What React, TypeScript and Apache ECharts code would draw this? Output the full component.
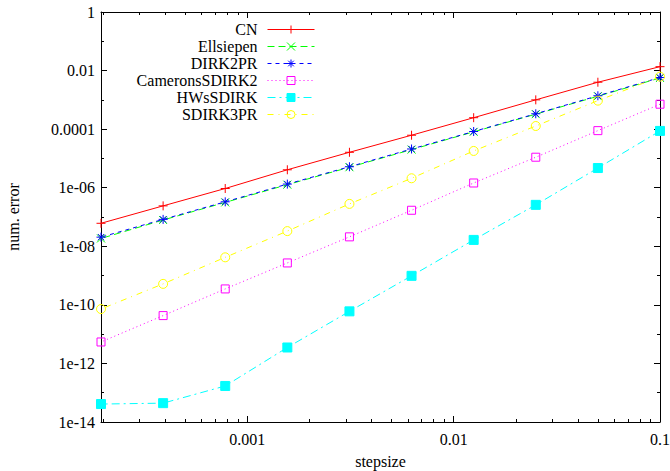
import React, { useEffect, useRef } from "react";
import * as echarts from "echarts";

// step sizes (x)
const stepsizes = [0.1, 0.05, 0.025, 0.0125, 0.00625, 0.003125, 0.0015625, 0.00078125, 0.000390625, 0.0001953125];

// errors (y) per method, same order as stepsizes
const cnErr = [1.36e-2, 4.0e-3, 1.0e-3, 2.46e-4, 6.2e-5, 1.62e-5, 4.1e-6, 9.4e-7, 2.4e-7, 6.1e-8];
const ellsiepenErr = [5.6e-3, 1.33e-3, 3.25e-4, 8.1e-5, 2.0e-5, 5.0e-6, 1.27e-6, 3.15e-7, 7.9e-8, 1.85e-8];
const dirk2prErr = [5.8e-3, 1.38e-3, 3.35e-4, 8.3e-5, 2.1e-5, 5.2e-6, 1.33e-6, 3.3e-7, 8.3e-8, 2.05e-8];
const cameronsErr = [7.1e-4, 8.9e-5, 1.1e-5, 1.45e-6, 1.7e-7, 2.1e-8, 2.7e-9, 3.5e-10, 4.3e-11, 5.4e-12];
const hwsErr = [8.7e-5, 4.7e-6, 2.6e-7, 1.65e-8, 9.8e-10, 6.0e-11, 3.5e-12, 1.7e-13, 4.4e-14, 4.1e-14];
const sdirk3prErr = [6.2e-3, 9.4e-4, 1.28e-4, 1.8e-5, 2.1e-6, 2.8e-7, 3.3e-8, 4.2e-9, 5.2e-10, 7.2e-11];

const seriesNames = ["CN", "Ellsiepen", "DIRK2PR", "CameronsSDIRK2", "HWsSDIRK", "SDIRK3PR"];

// axis ticks
const xMajorTicks = [0.001, 0.01, 0.1];
const xMajorLabels = ["0.001", "0.01", "0.1"];
const xMinorTicks = [
  0.0002, 0.0003, 0.0004, 0.0005, 0.0006, 0.0007, 0.0008, 0.0009,
  0.002, 0.003, 0.004, 0.005, 0.006, 0.007, 0.008, 0.009,
  0.02, 0.03, 0.04, 0.05, 0.06, 0.07, 0.08, 0.09,
];
const yMajorTicks = [1, 1e-2, 1e-4, 1e-6, 1e-8, 1e-10, 1e-12, 1e-14];
const yMajorLabels = ["1", "0.01", "0.0001", "1e-06", "1e-08", "1e-10", "1e-12", "1e-14"];
const yMinorTicks = [1e-1, 1e-3, 1e-5, 1e-7, 1e-9, 1e-11, 1e-13];

const X_MIN = 0.0001953125;
const X_MAX = 0.1;
const Y_MIN = 1e-14;
const Y_MAX = 1;

const FONT = "'Liberation Serif', 'Times New Roman', serif";
const FS = 16;

const PLUS = "path://M0,5 L10,5 M5,0 L5,10";
const CROSS = "path://M0,0 L10,10 M10,0 L0,10";
const STAR = "path://M0,5 L10,5 M5,0 L5,10 M1.5,1.5 L8.5,8.5 M8.5,1.5 L1.5,8.5";
const SQUARE = "path://M0,0 L10,0 L10,10 L0,10 Z";
const CIRCLE = "path://M0,5 A5,5 0 1,1 10,5 A5,5 0 1,1 0,5 Z";

function labelFor(ticks: number[], labels: string[], v: number) {
  for (let i = 0; i < ticks.length; i++) {
    if (Math.abs(Math.log10(v) - Math.log10(ticks[i])) < 1e-6) return labels[i];
  }
  return "";
}

export default function App() {
  const ref = useRef<HTMLDivElement>(null);
  useEffect(() => {
    document.body.style.margin = "0";
    if (!ref.current) return;
    const chart = echarts.init(ref.current, null, { renderer: "svg" });
    const pairs = (ys: number[]) => stepsizes.map((x, i) => [x, ys[i]]);

    const axisLine = { show: true, lineStyle: { color: "#000", width: 1 } };
    const mkX = (pos: string, ticks: number[], len: number, withLabels: boolean, line: boolean, extra: any = {}) => ({
      type: "log",
      logBase: 10,
      position: pos,
      min: X_MIN,
      max: X_MAX,
      axisLine: line ? axisLine : { show: false },
      axisTick: { show: true, inside: true, length: len, customValues: ticks, lineStyle: { color: "#000", width: 1 } },
      axisLabel: withLabels
        ? {
            show: true,
            customValues: ticks,
            formatter: (v: number) => labelFor(xMajorTicks, xMajorLabels, v),
            fontFamily: FONT,
            fontSize: FS,
            color: "#000",
            margin: 9,
          }
        : { show: false },
      splitLine: { show: false },
      minorTick: { show: false },
      ...extra,
    });
    const mkY = (pos: string, ticks: number[], len: number, withLabels: boolean, line: boolean, extra: any = {}) => ({
      type: "log",
      logBase: 10,
      position: pos,
      min: Y_MIN,
      max: Y_MAX,
      axisLine: line ? axisLine : { show: false },
      axisTick: { show: true, inside: true, length: len, customValues: ticks, lineStyle: { color: "#000", width: 1 } },
      axisLabel: withLabels
        ? {
            show: true,
            customValues: ticks,
            formatter: (v: number) => labelFor(yMajorTicks, yMajorLabels, v),
            fontFamily: FONT,
            fontSize: FS,
            color: "#000",
            margin: 6,
          }
        : { show: false },
      splitLine: { show: false },
      minorTick: { show: false },
      ...extra,
    });

    const mkSeries = (
      name: string,
      ys: number[],
      color: string,
      dash: any,
      symbol: string,
      size: number,
      fill: string
    ) => ({
      name,
      type: "line",
      xAxisIndex: 0,
      yAxisIndex: 0,
      data: pairs(ys),
      symbol,
      symbolSize: size,
      lineStyle: { color, width: 1, type: dash },
      itemStyle: { color: fill, borderColor: color, borderWidth: 1 },
      emphasis: { disabled: true },
      silent: true,
    });

    chart.setOption({
      animation: false,
      grid: { left: 101, right: 10, top: 12, bottom: 49, containLabel: false, outerBoundsMode: "none" },
      textStyle: { fontFamily: FONT },
      xAxis: [
        mkX("bottom", xMajorTicks, 6, true, true, {
          name: "stepsize",
          nameLocation: "middle",
          nameGap: 31,
          nameTextStyle: { fontFamily: FONT, fontSize: FS, color: "#000" },
        }),
        mkX("bottom", xMinorTicks, 3, false, false),
        mkX("top", xMajorTicks, 6, false, true),
        mkX("top", xMinorTicks, 3, false, false),
      ],
      yAxis: [
        mkY("left", yMajorTicks, 6, true, true, {
          name: "num. error",
          nameLocation: "middle",
          nameRotate: 90,
          nameGap: 80,
          nameTextStyle: { fontFamily: FONT, fontSize: FS, color: "#000" },
        }),
        mkY("left", yMinorTicks, 3, false, false),
        mkY("right", yMajorTicks, 6, false, true),
        mkY("right", yMinorTicks, 3, false, false),
      ],
      legend: {
        orient: "vertical",
        align: "right",
        right: 350,
        top: 16,
        itemWidth: 47,
        itemHeight: 10,
        itemGap: 0,
        selectedMode: false,
        lineStyle: { width: 1 },
        itemStyle: { borderWidth: 1 },
        textStyle: {
          fontFamily: FONT,
          fontSize: FS,
          color: "#000",
          lineHeight: 17,
          width: 130,
          align: "right",
          padding: [0, 5, 0, 0],
        },
        data: seriesNames,
      },
      series: [
        mkSeries(seriesNames[0], cnErr, "#ff0000", "solid", PLUS, 9, "#ff0000"),
        mkSeries(seriesNames[1], ellsiepenErr, "#00ff00", [7, 4], CROSS, 8, "#00ff00"),
        mkSeries(seriesNames[2], dirk2prErr, "#0000ff", [4, 4], STAR, 9, "#0000ff"),
        mkSeries(seriesNames[3], cameronsErr, "#ff00ff", [1, 3], SQUARE, 8, "rgba(0,0,0,0)"),
        mkSeries(seriesNames[4], hwsErr, "#00ffff", [8, 4, 2, 4], "rect", 9, "#00ffff"),
        mkSeries(seriesNames[5], sdirk3prErr, "#ffff00", [6, 5, 1, 5], CIRCLE, 9, "rgba(0,0,0,0)"),
      ],
    });
    return () => chart.dispose();
  }, []);
  return <div ref={ref} style={{ width: 670, height: 471 }} />;
}
